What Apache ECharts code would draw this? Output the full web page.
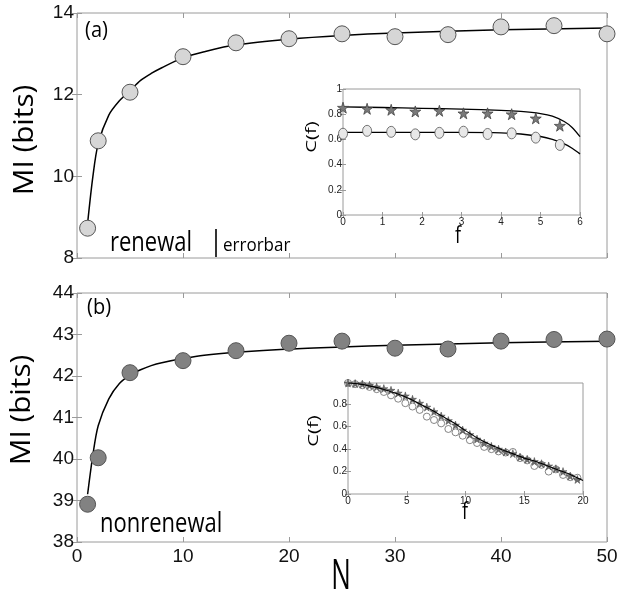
<!DOCTYPE html>
<html><head><meta charset="utf-8">
<script src="https://cdn.jsdelivr.net/npm/echarts@6/dist/echarts.min.js"></script>
<style>html,body{margin:0;padding:0;background:#fff}#c{width:625px;height:600px}</style>
</head><body><div id="c"></div>
<script>
// ---- data ----
const N = [1, 2, 5, 10, 15, 20, 25, 30, 35, 40, 45, 50];
const miRenewal = [8.73, 10.87, 12.06, 12.93, 13.27, 13.37, 13.49, 13.42, 13.47, 13.66, 13.69, 13.49];
const miNonrenewal = [38.91, 40.03, 42.08, 42.37, 42.61, 42.79, 42.84, 42.67, 42.65, 42.84, 42.88, 42.89];
const fitN = [1, 1.5, 2, 3, 4, 5, 6, 7, 8, 10, 12, 15, 20, 25, 30, 40, 50];
const fitRenewal = [8.85, 10.0, 10.8, 11.5, 11.85, 12.1, 12.35, 12.52, 12.66, 12.9, 13.05, 13.22, 13.36, 13.45, 13.51, 13.59, 13.63];
const fitNonrenewal = [39.15, 40.1, 40.8, 41.45, 41.82, 42.02, 42.15, 42.25, 42.32, 42.42, 42.5, 42.57, 42.65, 42.7, 42.74, 42.8, 42.84];

const fInsetA = [0, 0.61, 1.22, 1.83, 2.44, 3.05, 3.66, 4.27, 4.88, 5.49];
const cStarA = [0.852, 0.843, 0.835, 0.822, 0.827, 0.807, 0.807, 0.8, 0.767, 0.709];
const cCircA = [0.645, 0.668, 0.66, 0.64, 0.652, 0.661, 0.643, 0.648, 0.614, 0.556];
const fFitA = [0, 1, 2, 3, 4, 4.5, 5, 5.3, 5.6, 5.8, 6];
const cFitStarA = [0.858, 0.853, 0.847, 0.84, 0.831, 0.822, 0.805, 0.785, 0.742, 0.695, 0.622];
const cFitCircA = [0.655, 0.655, 0.655, 0.655, 0.652, 0.643, 0.623, 0.6, 0.565, 0.53, 0.485];

const fInsetB = [0, 0.61, 1.22, 1.83, 2.44, 3.05, 3.66, 4.27, 4.88, 5.49, 6.1, 6.71, 7.32, 7.93, 8.54, 9.15, 9.76, 10.37, 10.98, 11.59, 12.2, 12.81, 13.42, 14.03, 14.64, 15.25, 15.86, 16.47, 17.08, 17.69, 18.3, 18.91, 19.52];
const cStarB = [0.99, 0.985, 0.98, 0.97, 0.955, 0.94, 0.925, 0.9, 0.875, 0.845, 0.81, 0.775, 0.735, 0.695, 0.655, 0.615, 0.57, 0.53, 0.49, 0.455, 0.425, 0.4, 0.375, 0.36, 0.33, 0.31, 0.29, 0.27, 0.25, 0.225, 0.2, 0.16, 0.13];
const cCircB = [0.99, 0.98, 0.97, 0.955, 0.935, 0.91, 0.88, 0.85, 0.81, 0.78, 0.75, 0.69, 0.66, 0.63, 0.58, 0.55, 0.52, 0.48, 0.455, 0.42, 0.4, 0.38, 0.37, 0.375, 0.32, 0.3, 0.25, 0.26, 0.2, 0.22, 0.17, 0.15, 0.145];
const fFitB = [0, 1, 2, 3, 4, 5, 6, 7, 8, 9, 10, 11, 12, 13, 14, 15, 16, 17, 18, 19, 20];
const cFitB = [0.99, 0.98, 0.96, 0.935, 0.9, 0.86, 0.81, 0.755, 0.695, 0.635, 0.565, 0.5, 0.445, 0.4, 0.36, 0.32, 0.29, 0.25, 0.21, 0.17, 0.12];

const zip = (a, b) => a.map((v, i) => [v, b[i]]);
const STAR = 'path://M50,0 L61,35 L98,35 L68,57 L79,91 L50,70 L21,91 L32,57 L2,35 L39,35 Z';
const FRAME = '#9a9a9a';
const TF = 'Liberation Sans';

function axis(type, pos, gi, min, max, interval, showLabel, labelOpt, tickLen) {
  return {
    type: 'value', gridIndex: gi, position: pos, min: min, max: max, interval: interval,
    axisLine: {show: false},
    axisTick: {show: true, inside: true, length: tickLen, lineStyle: {color: FRAME, width: 1}},
    splitLine: {show: false},
    axisLabel: Object.assign({show: showLabel}, labelOpt || {})
  };
}
const mainYLabel = {fontFamily: TF, fontSize: 19, color: '#111', margin: 3};
const mainXLabel = {fontFamily: TF, fontSize: 19, color: '#111', margin: 5};
const insYLabel = {fontFamily: TF, fontSize: 10, color: '#222', margin: 1,
  formatter: v => (Math.abs(v * 5 - Math.round(v * 5)) < 1e-6 ? String(+v.toFixed(1)) : '')};
const insXLabel = {fontFamily: TF, fontSize: 10, color: '#222', margin: 2};

function gtext(text, x, y, size, opts) {
  opts = opts || {};
  return {
    type: 'text', x: x, y: y, rotation: opts.rot || 0,
    scaleX: opts.sx || 1, scaleY: opts.sy || 1, z: 100,
    style: {text: text, fill: '#000', font: size + 'px "Open Sans"',
      align: opts.align || 'center', verticalAlign: 'middle',
      textAlign: opts.align || 'center', textVerticalAlign: 'middle'}
  };
}

const chart = echarts.init(document.getElementById('c'), null, {renderer: 'canvas'});
chart.setOption({
  backgroundColor: '#fff',
  animation: false,
  grid: [
    {left: 77, top: 13, width: 530, height: 245, show: true, borderColor: FRAME, borderWidth: 1, backgroundColor: 'transparent'},
    {left: 77, top: 293, width: 530, height: 249, show: true, borderColor: FRAME, borderWidth: 1, backgroundColor: 'transparent'},
    {left: 343, top: 89, width: 237, height: 126, show: true, borderColor: FRAME, borderWidth: 1, backgroundColor: '#fff'},
    {left: 348, top: 383, width: 235, height: 111, show: true, borderColor: FRAME, borderWidth: 1, backgroundColor: '#fff'}
  ],
  xAxis: [
    axis('x', 'bottom', 0, 0, 50, 10, false, null, 5),
    axis('x', 'top', 0, 0, 50, 10, false, null, 5),
    axis('x', 'bottom', 1, 0, 50, 10, true, mainXLabel, 5),
    axis('x', 'top', 1, 0, 50, 10, false, null, 5),
    axis('x', 'bottom', 2, 0, 6, 1, true, insXLabel, 3),
    axis('x', 'top', 2, 0, 6, 1, false, null, 3),
    axis('x', 'bottom', 3, 0, 20, 5, true, insXLabel, 3),
    axis('x', 'top', 3, 0, 20, 5, false, null, 3)
  ],
  yAxis: [
    axis('y', 'left', 0, 8, 14, 2, true, mainYLabel, 5),
    axis('y', 'right', 0, 8, 14, 2, false, null, 5),
    axis('y', 'left', 1, 38, 44, 1, true, mainYLabel, 5),
    axis('y', 'right', 1, 38, 44, 1, false, null, 5),
    axis('y', 'left', 2, 0, 1, 0.2, true, insYLabel, 3),
    axis('y', 'right', 2, 0, 1, 0.2, false, null, 3),
    axis('y', 'left', 3, 0, 0.99, 0.2, true, insYLabel, 3),
    axis('y', 'right', 3, 0, 0.99, 0.2, false, null, 3)
  ],
  series: [
    {type: 'line', xAxisIndex: 0, yAxisIndex: 0, data: zip(fitN, fitRenewal), smooth: 0.3, showSymbol: false,
      lineStyle: {color: '#000', width: 1.5}, z: 2},
    {type: 'scatter', xAxisIndex: 0, yAxisIndex: 0, data: zip(N, miRenewal), symbol: 'circle', symbolSize: 16, clip: false,
      itemStyle: {color: '#d6d6d6', borderColor: '#555', borderWidth: 1, opacity: 1}, z: 3},
    {type: 'line', xAxisIndex: 2, yAxisIndex: 2, data: zip(fitN, fitNonrenewal), smooth: 0.3, showSymbol: false,
      lineStyle: {color: '#000', width: 1.5}, z: 2},
    {type: 'scatter', xAxisIndex: 2, yAxisIndex: 2, data: zip(N, miNonrenewal), symbol: 'circle', symbolSize: 16, clip: false,
      itemStyle: {color: '#828282', borderColor: '#555', borderWidth: 1, opacity: 1}, z: 3},

    {type: 'line', xAxisIndex: 4, yAxisIndex: 4, data: zip(fFitA, cFitStarA), smooth: 0.3, showSymbol: false,
      lineStyle: {color: '#000', width: 1.3}, z: 5},
    {type: 'line', xAxisIndex: 4, yAxisIndex: 4, data: zip(fFitA, cFitCircA), smooth: 0.3, showSymbol: false,
      lineStyle: {color: '#000', width: 1.3}, z: 5},
    {type: 'scatter', xAxisIndex: 4, yAxisIndex: 4, data: zip(fInsetA, cStarA), symbol: STAR, symbolSize: 11, clip: false,
      itemStyle: {color: '#7a7a7a', borderColor: '#444', borderWidth: 0.8, opacity: 1}, z: 6},
    {type: 'scatter', xAxisIndex: 4, yAxisIndex: 4, data: zip(fInsetA, cCircA), symbol: 'circle', symbolSize: [9, 11], clip: false,
      itemStyle: {color: '#e8e8e8', borderColor: '#555', borderWidth: 0.8, opacity: 1}, z: 6},

    {type: 'scatter', xAxisIndex: 6, yAxisIndex: 6, data: zip(fInsetB, cCircB), symbol: 'circle', symbolSize: 7, clip: false,
      itemStyle: {color: '#fff', borderColor: '#666', borderWidth: 0.8, opacity: 1}, z: 6},
    {type: 'scatter', xAxisIndex: 6, yAxisIndex: 6, data: zip(fInsetB, cStarB), symbol: STAR, symbolSize: 8, clip: false,
      itemStyle: {color: '#6e6e6e', borderColor: '#444', borderWidth: 0.5, opacity: 1}, z: 6},
    {type: 'line', xAxisIndex: 6, yAxisIndex: 6, data: zip(fFitB, cFitB), smooth: 0.3, showSymbol: false,
      lineStyle: {color: '#000', width: 1.1}, z: 7}
  ],
  graphic: [
    gtext('MI (bits)', 25, 140, 27, {rot: Math.PI / 2, sx: 1.1}),
    gtext('MI (bits)', 22, 410, 27, {rot: Math.PI / 2, sx: 1.1}),
    gtext('N', 341, 577, 26, {sy: 1.6}),
    gtext('(a)', 85, 31, 20, {align: 'left', sy: 1.1}),
    gtext('(b)', 87, 308, 20, {align: 'left', sy: 1.1}),
    gtext('renewal', 110, 243, 22, {align: 'left', sy: 1.2}),
    gtext('errorbar', 223, 246, 17, {align: 'left', sy: 1.1}),
    gtext('nonrenewal', 100, 524, 22, {align: 'left', sy: 1.2}),
    gtext('C(f)', 312, 137, 15, {rot: Math.PI / 2, sx: 1.35}),
    gtext('C(f)', 314, 431, 15, {rot: Math.PI / 2, sx: 1.35}),
    gtext('f', 458, 236, 18, {sy: 1.3}),
    gtext('f', 465, 512, 18, {sy: 1.3}),
    {type: 'line', z: 100, shape: {x1: 216, y1: 229, x2: 216, y2: 257}, style: {stroke: '#000', lineWidth: 1.6}}
  ]
});
</script></body></html>
